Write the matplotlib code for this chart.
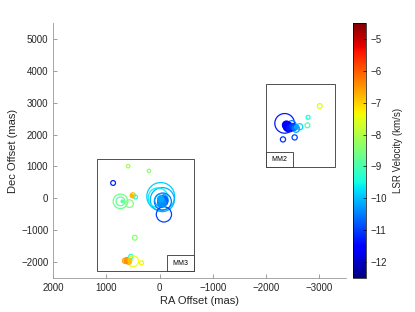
import matplotlib
matplotlib.use("Agg")
import matplotlib.pyplot as plt
from matplotlib.patches import Rectangle
import numpy as np

plt.rcParams['font.family'] = ['Liberation Sans', 'DejaVu Sans']

# open maser spots: RA offset (mas), Dec offset (mas), LSR velocity (km/s), spot size
ra_open = [591, 202, 874, 736, 736, 566, 504, 453, -20, -50, 30, -60, -30, -80, 466,
           609, 541, 496, 339, 650, 580,
           -3006, -2786, -2774, -2346, -2315, -2534, -2628, -2560, -2480]
dec_open = [1009, 861, 482, -95, -95, -167, 95, 41, 60, -40, 20, -100, -60, -504, -1238,
            -1953, -1827, -1975, -2025, -1960, -1990,
            2898, 2542, 2290, 2353, 1849, 1912, 2246, 2180, 2300]
vel_open = [-8.2, -8.4, -11.2, -8.6, -8.8, -8.5, -6.9, -9.3, -9.9, -10.1, -9.6, -10.6, -10.3, -11.0, -8.4,
            -6.4, -9.3, -7.4, -7.3, -6.6, -6.8,
            -7.6, -9.5, -9.0, -11.3, -11.1, -11.0, -9.8, -10.2, -10.5]
size_open = [6, 6, 12, 110, 40, 30, 14, 8, 400, 300, 200, 150, 90, 120, 12,
             20, 10, 60, 8, 14, 14,
             12, 8, 12, 200, 14, 14, 20, 25, 40]

# filled spots (dense cores)
ra_fill = [-60, -40, -20, 700, 520, -2410, -2380, -2450, -2500, -2530, -2570, 620, 560]
dec_fill = [-80, -140, -20, -95, 80, 2246, 2300, 2200, 2260, 2200, 2240, -1970, -1960]
vel_fill = [-10.7, -10.4, -10.2, -8.8, -6.8, -11.7, -11.5, -11.3, -11.0, -10.6, -10.2, -6.5, -6.9]
size_fill = [70, 50, 30, 8, 10, 60, 45, 35, 25, 18, 15, 18, 14]

# region boxes: RA left, RA right, Dec bottom, Dec top
regions = ["MM3", "MM2"]
box_ra = [(1170, -640), (-2000, -3300)]
box_dec = [(-2270, 1230), (980, 3600)]

fig = plt.figure(figsize=(4.15, 3.12), dpi=100)
ax = fig.add_axes([0.128, 0.109, 0.706, 0.817])
cax = fig.add_axes([0.851, 0.109, 0.031, 0.817])

norm = plt.Normalize(-12.5, -4.5)
cmap = plt.get_cmap('jet')

ax.scatter(ra_open, dec_open, s=size_open, facecolors='none',
           edgecolors=cmap(norm(np.array(vel_open))), linewidths=0.9, zorder=3)
ax.scatter(ra_fill, dec_fill, s=size_fill, c=vel_fill, cmap=cmap, norm=norm,
           edgecolors='none', zorder=4)

for name, (r0, r1), (d0, d1) in zip(regions, box_ra, box_dec):
    ax.add_patch(Rectangle((r1, d0), r0 - r1, d1 - d0, fill=False,
                           edgecolor='#333333', linewidth=0.6, zorder=2))
    if name == "MM3":
        lx0, lx1 = r1 + 510, r1
    else:
        lx0, lx1 = r0, r0 - 510
    ax.add_patch(Rectangle((lx1, d0), lx0 - lx1, 480, fill=True, facecolor='white',
                           edgecolor='#333333', linewidth=0.6, zorder=5))
    ax.text((lx0 + lx1) / 2, d0 + 240, name, fontsize=5, ha='center', va='center', zorder=6)

ax.set_xlim(2000, -3500)
ax.set_ylim(-2500, 5500)
ax.set_xticks([2000, 1000, 0, -1000, -2000, -3000])
ax.set_yticks(np.arange(-2000, 5001, 1000))
ax.tick_params(direction='in', labelsize=7, length=3, color='#777777', width=0.5,
               labelcolor='#262626')
for s in ['top', 'right']:
    ax.spines[s].set_visible(False)
for s in ['left', 'bottom']:
    ax.spines[s].set_color('#999999')
    ax.spines[s].set_linewidth(0.6)
ax.set_xlabel('RA Offset (mas)', fontsize=8, labelpad=2, color='#262626')
ax.set_ylabel('Dec Offset (mas)', fontsize=8, labelpad=2, color='#262626')

sm = plt.cm.ScalarMappable(norm=norm, cmap=cmap)
cb = fig.colorbar(sm, cax=cax)
cb.set_ticks(np.arange(-12, -4, 1))
cb.ax.tick_params(direction='in', labelsize=7, length=2, width=0.5, labelcolor='#262626')
cb.outline.set_linewidth(0.5)
cb.set_label('LSR Velocity (km/s)', fontsize=7, labelpad=4, color='#262626')

fig.savefig('out.png', dpi=100)
